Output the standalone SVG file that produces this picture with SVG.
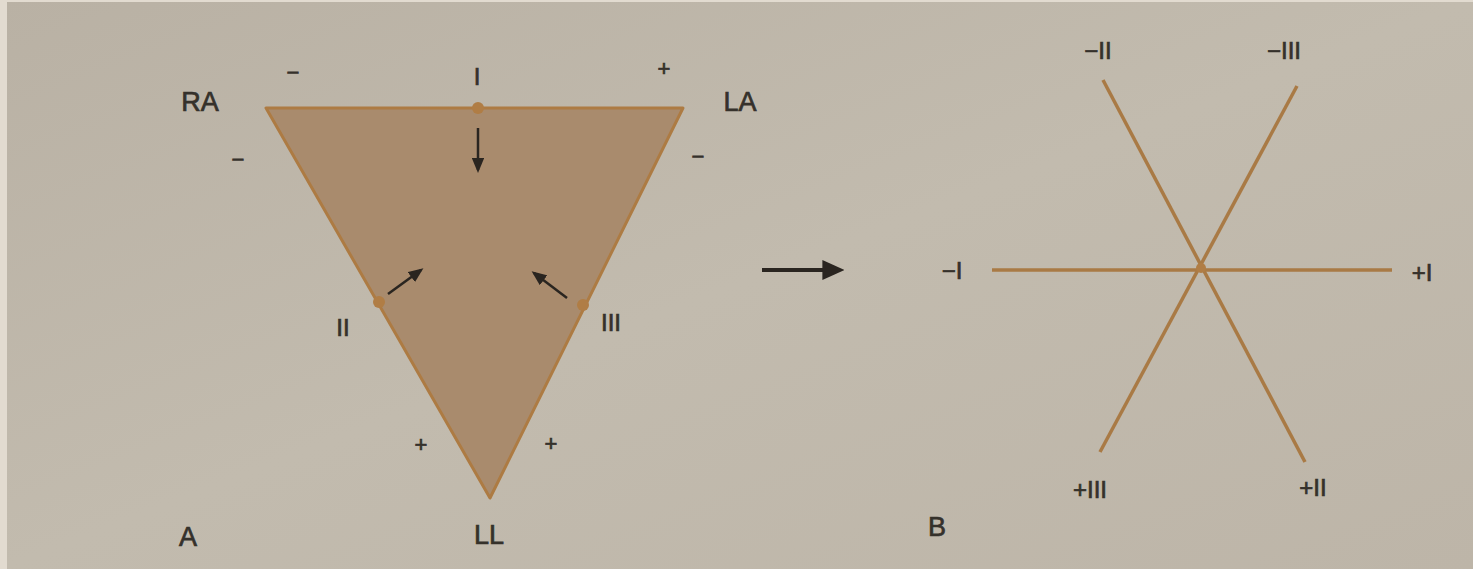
<svg xmlns="http://www.w3.org/2000/svg" width="1473" height="569" viewBox="0 0 1473 569">
<defs>
<linearGradient id="bg" x1="0" y1="0" x2="1" y2="1">
<stop offset="0" stop-color="#b9b1a4"/>
<stop offset="0.5" stop-color="#c2bbae"/>
<stop offset="1" stop-color="#bdb5a8"/>
</linearGradient>
<marker id="ah" viewBox="0 0 10 10" refX="8" refY="5" markerWidth="6" markerHeight="5" orient="auto" markerUnits="strokeWidth" preserveAspectRatio="none">
<path d="M0,0 L10,5 L0,10 Z" fill="#2a2520"/>
</marker>
<marker id="ahb" viewBox="0 0 10 10" refX="8" refY="5" markerWidth="5.5" markerHeight="5" orient="auto" markerUnits="strokeWidth" preserveAspectRatio="none">
<path d="M0,0 L10,5 L0,10 Z" fill="#2a2520"/>
</marker>
</defs>
<style>
text{font-family:"Liberation Sans",Arial,sans-serif;fill:#35312b;stroke:#35312b;stroke-width:0.7;text-anchor:middle;dominant-baseline:central}
.big{font-size:27px}
.lbl{font-size:24px}
.sgn{font-size:22px}
.axis{stroke:#a97a45;stroke-width:3.5;fill:none}
.dot{fill:#b07d45}
.arr{stroke:#2a2520;stroke-width:2.5;fill:none}
</style>
<rect x="0" y="0" width="1473" height="569" fill="url(#bg)"/>
<rect x="0" y="0" width="7" height="569" fill="#e2dbd0"/>
<rect x="0" y="0" width="1473" height="2" fill="#e2dbd0"/>

<g id="panelA">
<g id="triangle">
<polygon points="266,108 683,108 490,498" fill="#a98b6d" stroke="#ad7b43" stroke-width="3" stroke-linejoin="round"/>
</g>
<g id="leadI">
<circle class="dot" cx="478" cy="108" r="6"/>
<text class="lbl" x="477" y="76">I</text>
<text class="sgn" x="293" y="72">−</text>
<text class="sgn" x="664" y="68">+</text>
</g>
<g id="leadII">
<circle class="dot" cx="379" cy="302" r="6"/>
<text class="lbl" x="343" y="327">II</text>
<text class="sgn" x="238" y="159">−</text>
<text class="sgn" x="421" y="444">+</text>
</g>
<g id="leadIII">
<circle class="dot" cx="583" cy="305" r="6"/>
<text class="lbl" x="611" y="322">III</text>
<text class="sgn" x="698" y="156">−</text>
<text class="sgn" x="551" y="443">+</text>
</g>
<g id="RA"><text class="big" x="200" y="102">RA</text></g>
<g id="LA"><text class="big" x="740" y="102">LA</text></g>
<g id="LL"><text class="big" x="489" y="535">LL</text></g>
<g id="labelA"><text class="big" x="188" y="537">A</text></g>
</g>

<g id="panelB">
<g id="axisI">
<line class="axis" x1="992" y1="270" x2="1392" y2="270"/>
<text class="lbl" x="952" y="270">−I</text>
<text class="lbl" x="1422" y="272">+I</text>
</g>
<g id="axisII">
<line class="axis" x1="1103" y1="80" x2="1305" y2="462"/>
<text class="lbl" x="1098" y="50">−II</text>
<text class="lbl" x="1313" y="487">+II</text>
</g>
<g id="axisIII">
<line class="axis" x1="1297" y1="86" x2="1100" y2="452"/>
<text class="lbl" x="1284" y="50">−III</text>
<text class="lbl" x="1090" y="489">+III</text>
</g>
<circle class="dot" cx="1201" cy="268" r="5"/>
<g id="labelB"><text class="big" x="937" y="527">B</text></g>
</g>

<g id="connectors">
<line class="arr" x1="478" y1="128" x2="478" y2="170" marker-end="url(#ah)"/>
<line class="arr" x1="388" y1="294" x2="421" y2="270" marker-end="url(#ah)"/>
<line class="arr" x1="567" y1="298" x2="534" y2="273" marker-end="url(#ah)"/>
<line x1="762" y1="270" x2="840" y2="270" stroke="#2a2520" stroke-width="4" marker-end="url(#ahb)"/>
</g>
</svg>
